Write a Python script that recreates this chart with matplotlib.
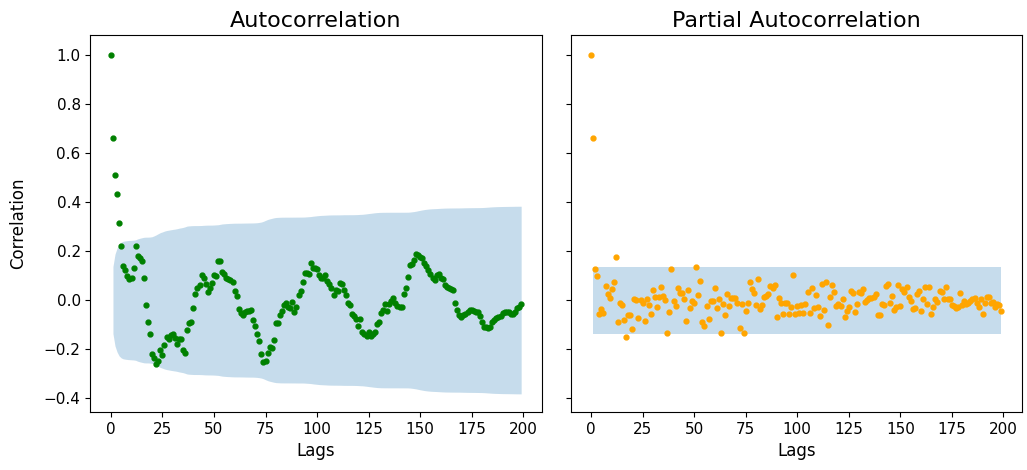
import numpy as np
import matplotlib
matplotlib.use("Agg")
import matplotlib.pyplot as plt

nobs = 205

acf_vals = [
    1.0, 0.662, 0.511, 0.434, 0.316, 0.222, 0.14, 0.122, 0.10, 0.084,
    0.09, 0.132, 0.222, 0.181, 0.170, 0.160, 0.09, -0.02, -0.088, -0.137,
    -0.22, -0.238, -0.263, -0.25, -0.205, -0.224, -0.184, -0.151, -0.16, -0.143,
    -0.14, -0.155, -0.181, -0.16, -0.16, -0.204, -0.215, -0.122, -0.095, -0.091,
    -0.033, 0.023, 0.048, 0.061, 0.102, 0.088, 0.064, 0.034, 0.05, 0.07,
    0.102, 0.098, 0.160, 0.160, 0.113, 0.106, 0.09, 0.084, 0.082, 0.075,
    0.037, 0.016, -0.037, -0.054, -0.061, -0.05, -0.045, -0.045, -0.041, -0.083,
    -0.106, -0.139, -0.167, -0.219, -0.254, -0.249, -0.215, -0.19, -0.195, -0.162,
    -0.095, -0.093, -0.061, -0.045, -0.02, -0.013, -0.027, -0.033, -0.007, -0.05,
    -0.029, 0.02, 0.037, 0.072, 0.109, 0.109, 0.107, 0.152, 0.129, 0.132,
    0.125, 0.102, 0.091, 0.088, 0.102, 0.078, 0.064, 0.05, 0.02, 0.041,
    0.037, 0.068, 0.064, 0.04, 0.02, -0.014, -0.02, -0.058, -0.064, -0.078,
    -0.105, -0.078, -0.132, -0.137, -0.148, -0.132, -0.146, -0.14, -0.129, -0.099,
    -0.088, -0.054, -0.041, -0.018, -0.045, -0.018, -0.004, 0.01, -0.01, -0.023,
    -0.027, -0.027, 0.023, 0.048, 0.095, 0.143, 0.146, 0.163, 0.19, 0.184,
    0.177, 0.17, 0.15, 0.14, 0.122, 0.105, 0.088, 0.082, 0.102, 0.105,
    0.091, 0.086, 0.061, 0.054, 0.05, 0.045, 0.041, -0.011, -0.041, -0.061,
    -0.068, -0.062, -0.058, -0.05, -0.042, -0.04, -0.045, -0.048, -0.05, -0.064,
    -0.088, -0.109, -0.111, -0.113, -0.109, -0.091, -0.082, -0.075, -0.068, -0.064,
    -0.054, -0.05, -0.048, -0.05, -0.055, -0.058, -0.05, -0.034, -0.027, -0.018,
]

pacf_vals = [
    1.0, 0.662, 0.128, 0.097, -0.058, -0.038, -0.052, 0.057, 0.024, 0.008,
    0.045, 0.072, 0.174, -0.09, -0.012, -0.02, -0.08, -0.151, -0.06, -0.06,
    -0.117, 0.003, 0.0, -0.072, 0.0, -0.01, -0.086, 0.003, -0.02, -0.057,
    0.041, 0.012, -0.029, 0.012, 0.052, 0.016, 0.0, -0.133, -0.048, 0.128,
    -0.003, -0.024, 0.048, 0.03, 0.03, 0.003, -0.086, 0.041, -0.034, -0.004,
    -0.011, 0.136, 0.019, 0.078, -0.088, -0.106, -0.024, -0.078, -0.003, -0.003,
    0.048, -0.031, 0.003, -0.136, -0.016, -0.063, 0.024, -0.024, 0.007, 0.007,
    0.007, -0.01, -0.116, -0.016, -0.136, -0.045, -0.01, 0.072, 0.044, 0.027,
    -0.02, 0.086, -0.037, -0.02, 0.011, 0.016, 0.024, 0.057, 0.05, 0.061,
    -0.071, 0.007, -0.011, -0.057, -0.011, -0.011, -0.057, -0.03, 0.102, -0.057,
    -0.024, -0.052, -0.02, -0.052, -0.016, 0.034, -0.052, 0.048, -0.034, 0.02,
    -0.027, -0.064, 0.065, -0.041, 0.072, -0.103, 0.011, 0.061, 0.034, -0.024,
    -0.016, -0.024, 0.004, -0.071, -0.045, -0.027, 0.037, 0.03, -0.049, -0.016,
    0.034, 0.03, 0.044, -0.007, 0.0, 0.007, 0.007, 0.014, 0.024, -0.063,
    -0.063, -0.016, -0.02, 0.057, 0.065, -0.011, 0.016, -0.041, -0.03, 0.06,
    -0.024, 0.044, 0.034, 0.052, 0.014, -0.003, -0.038, -0.034, 0.024, 0.037,
    -0.044, 0.003, 0.052, -0.016, 0.052, -0.058, -0.03, 0.003, -0.007, 0.037,
    0.034, 0.003, 0.052, 0.003, 0.003, -0.02, -0.024, -0.034, -0.027, 0.027,
    -0.02, -0.003, -0.016, -0.011, -0.003, 0.003, 0.007, -0.011, -0.027, 0.003,
    -0.057, -0.011, 0.014, 0.014, -0.011, -0.006, -0.03, -0.016, -0.02, -0.045,
]

acf_arr = np.array(acf_vals)
pacf_arr = np.array(pacf_vals)
lags = np.arange(len(acf_arr))

# Bartlett confidence band for ACF (as statsmodels computes it)
var_acf = np.ones(len(acf_arr)) / nobs
var_acf[0] = 0
var_acf[2:] *= 1 + 2 * np.cumsum(acf_arr[1:-1] ** 2)
acf_band = 1.96 * np.sqrt(var_acf)
pacf_band = np.full(len(pacf_arr), 1.96 / np.sqrt(nobs))

fig, (ax1, ax2) = plt.subplots(1, 2, figsize=(10.27, 4.70), dpi=100, sharey=True)
fig.subplots_adjust(left=0.088, right=0.995, top=1 - 35 / 470, bottom=1 - 412 / 470, wspace=0.064)

ax1.fill_between(lags[1:], -acf_band[1:], acf_band[1:], color="C0", alpha=0.25, lw=0)
ax1.plot(lags, acf_arr, "o", color="green", markersize=3.5)
ax1.set_title("Autocorrelation", fontsize=16)
ax1.set_xlabel("Lags", fontsize=12)
ax1.set_ylabel("Correlation", fontsize=12, labelpad=12)

ax2.fill_between(lags[1:], -pacf_band[1:], pacf_band[1:], color="C0", alpha=0.25, lw=0)
ax2.plot(lags, pacf_arr, "o", color="orange", markersize=3.5)
ax2.set_title("Partial Autocorrelation", fontsize=16)
ax2.set_xlabel("Lags", fontsize=12)

ax1.set_ylim(-0.457, 1.082)
for ax in (ax1, ax2):
    ax.tick_params(labelsize=11)

fig.savefig("out.png", dpi=100)
